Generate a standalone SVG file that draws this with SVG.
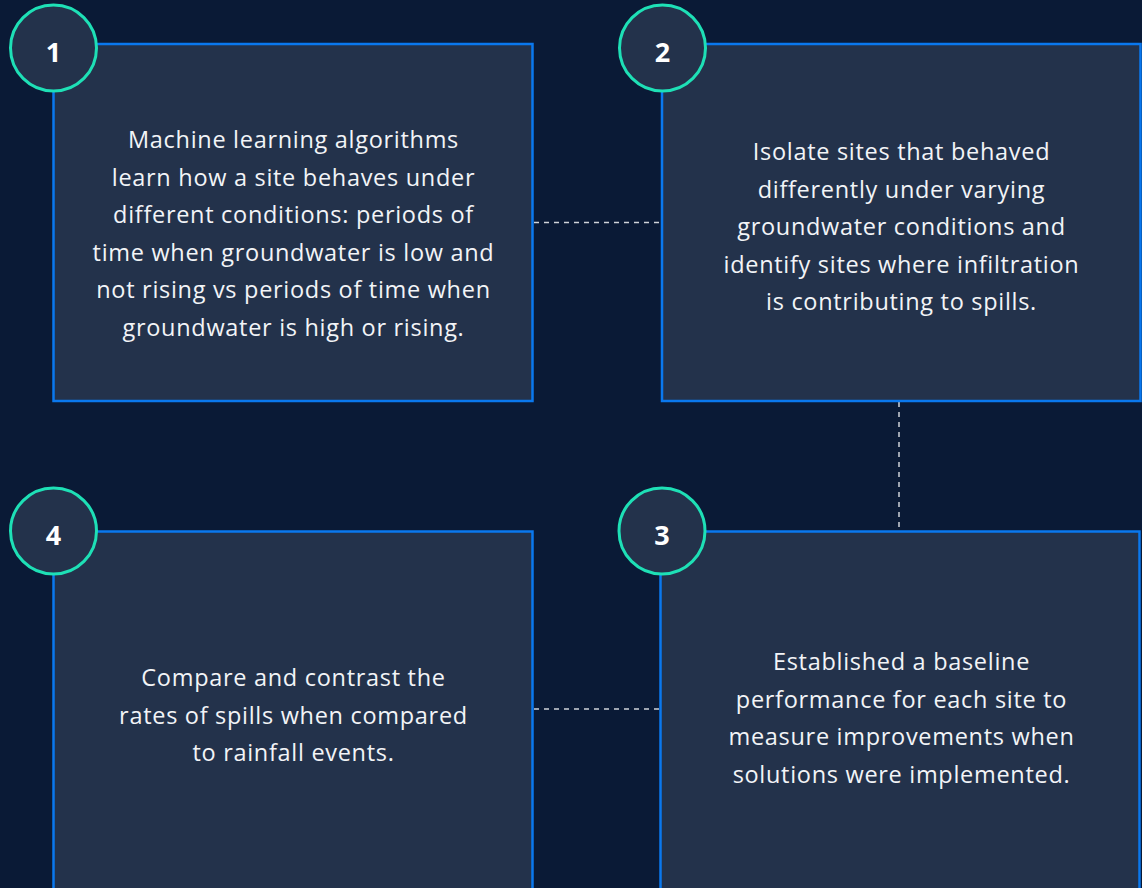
<svg xmlns="http://www.w3.org/2000/svg" width="1142" height="888" viewBox="0 0 1142 888">
<style>
.box{fill:#23324b;stroke:#0a78ee;stroke-width:2.5}
.badge{fill:#23324b;stroke:#1ee0b6;stroke-width:3}
.num{font-family:"Open Sans","Liberation Sans",sans-serif;font-weight:700;font-size:27px;fill:#ffffff;text-anchor:middle}
.txt{font-family:"Open Sans","Liberation Sans",sans-serif;font-size:23.5px;letter-spacing:0.7px;fill:#f2f4f7;text-anchor:middle}
.conn{stroke:#d0d4da;stroke-width:1.5;stroke-dasharray:5 5;fill:none}
</style>
<rect width="1142" height="888" fill="#0a1a36"/>
<g id="connectors">
<line class="conn" x1="534" y1="222.5" x2="661" y2="222.5"/>
<line class="conn" x1="899" y1="402" x2="899" y2="530"/>
<line class="conn" x1="534" y1="709" x2="659" y2="709"/>
</g>
<g id="node1">
<rect class="box" x="53.5" y="44" width="479" height="357"/>
<circle class="badge" cx="53.5" cy="48" r="43"/>
<text class="num" x="53.5" y="62">1</text>
<text class="txt" x="293.5" y="148">Machine learning algorithms</text>
<text class="txt" x="293.5" y="185.5">learn how a site behaves under</text>
<text class="txt" x="293.5" y="223">different conditions: periods of</text>
<text class="txt" x="293.5" y="260.5">time when groundwater is low and</text>
<text class="txt" x="293.5" y="298">not rising vs periods of time when</text>
<text class="txt" x="293.5" y="335.5">groundwater is high or rising.</text>
</g>
<g id="node2">
<rect class="box" x="662" y="44" width="478.5" height="357"/>
<circle class="badge" cx="662.5" cy="48" r="43"/>
<text class="num" x="662.5" y="62">2</text>
<text class="txt" x="901.5" y="160">Isolate sites that behaved</text>
<text class="txt" x="901.5" y="197.5">differently under varying</text>
<text class="txt" x="901.5" y="235">groundwater conditions and</text>
<text class="txt" x="901.5" y="272.5">identify sites where infiltration</text>
<text class="txt" x="901.5" y="310">is contributing to spills.</text>
</g>
<g id="node3">
<rect class="box" x="660.5" y="531.5" width="479" height="400"/>
<circle class="badge" cx="662" cy="531" r="43"/>
<text class="num" x="662" y="545">3</text>
<text class="txt" x="901.5" y="670">Established a baseline</text>
<text class="txt" x="901.5" y="707.5">performance for each site to</text>
<text class="txt" x="901.5" y="745">measure improvements when</text>
<text class="txt" x="901.5" y="782.5">solutions were implemented.</text>
</g>
<g id="node4">
<rect class="box" x="53.5" y="531.5" width="479" height="400"/>
<circle class="badge" cx="53.5" cy="531" r="43"/>
<text class="num" x="53.5" y="545">4</text>
<text class="txt" x="293.5" y="686">Compare and contrast the</text>
<text class="txt" x="293.5" y="723.5">rates of spills when compared</text>
<text class="txt" x="293.5" y="761">to rainfall events.</text>
</g>
</svg>
